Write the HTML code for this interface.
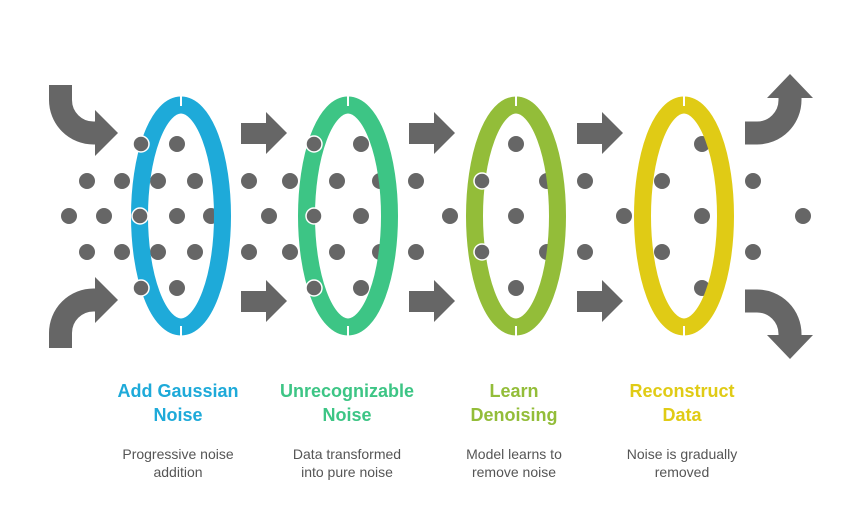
<!DOCTYPE html>
<html><head><meta charset="utf-8"><style>
body{margin:0;background:#fff;width:864px;height:517px;overflow:hidden;font-family:"Liberation Sans",sans-serif}
.t{position:absolute;width:170px;text-align:center;font-weight:bold;font-size:18px;line-height:24px}
.d{position:absolute;width:170px;text-align:center;font-size:14px;line-height:18px;color:#555}
</style></head><body>
<svg width="864" height="517" style="position:absolute;left:0;top:0">
<g fill="#666">
<circle cx="69" cy="216" r="8"/><circle cx="104" cy="216" r="8"/><circle cx="177" cy="216" r="8"/><circle cx="211" cy="216" r="8"/><circle cx="269" cy="216" r="8"/><circle cx="361" cy="216" r="8"/><circle cx="450" cy="216" r="8"/><circle cx="516" cy="216" r="8"/><circle cx="624" cy="216" r="8"/><circle cx="702" cy="216" r="8"/><circle cx="803" cy="216" r="8"/>
<g id="r"><circle cx="87" cy="181" r="8"/><circle cx="122" cy="181" r="8"/><circle cx="158" cy="181" r="8"/><circle cx="195" cy="181" r="8"/><circle cx="249" cy="181" r="8"/><circle cx="290" cy="181" r="8"/><circle cx="337" cy="181" r="8"/><circle cx="380" cy="181" r="8"/><circle cx="416" cy="181" r="8"/><circle cx="547" cy="181" r="8"/><circle cx="585" cy="181" r="8"/><circle cx="662" cy="181" r="8"/><circle cx="753" cy="181" r="8"/></g>
<use href="#r" y="71"/>
<circle cx="177" cy="144" r="8"/><circle cx="361" cy="144" r="8"/><circle cx="516" cy="144" r="8"/><circle cx="702" cy="144" r="8"/>
<circle cx="177" cy="288" r="8"/><circle cx="361" cy="288" r="8"/><circle cx="516" cy="288" r="8"/><circle cx="702" cy="288" r="8"/>
</g>
<g fill="none" stroke-width="17">
<ellipse cx="181" cy="216" rx="41.5" ry="111" stroke="#1EAAD9"/>
<ellipse cx="348" cy="216" rx="41.5" ry="111" stroke="#3DC585"/>
<ellipse cx="516" cy="216" rx="41.5" ry="111" stroke="#93BD39"/>
<ellipse cx="684" cy="216" rx="41.5" ry="111" stroke="#E0CB15"/>
</g>
<g stroke="#fff" stroke-width="2">
<line x1="181" y1="95" x2="181" y2="106"/><line x1="181" y1="326" x2="181" y2="337"/>
<line x1="348" y1="95" x2="348" y2="106"/><line x1="348" y1="326" x2="348" y2="337"/>
<line x1="516" y1="95" x2="516" y2="106"/><line x1="516" y1="326" x2="516" y2="337"/>
<line x1="684" y1="95" x2="684" y2="106"/><line x1="684" y1="326" x2="684" y2="337"/>
</g>
<g fill="#666" stroke="#fff" stroke-width="1.5">
<circle cx="141" cy="144" r="8"/><circle cx="140" cy="216" r="8"/><circle cx="141" cy="288" r="8"/>
<circle cx="314" cy="144" r="8"/><circle cx="314" cy="216" r="8"/><circle cx="314" cy="288" r="8"/>
<circle cx="482" cy="181" r="8"/><circle cx="482" cy="252" r="8"/>
</g>
<g fill="#666">
<g id="a"><rect x="241" y="123" width="26" height="21"/><polygon points="266,112 287,133 266,154"/></g>
<use href="#a" y="168"/><use href="#a" x="168"/><use href="#a" x="168" y="168"/><use href="#a" x="336"/><use href="#a" x="336" y="168"/>
<polygon points="95,110 118,133 95,156"/><polygon points="95,277 118,300 95,323"/>
<polygon points="767,98 790,74 813,98"/><polygon points="767,335 790,359 813,335"/>
</g>
<g fill="none" stroke="#666" stroke-width="23">
<path d="M60.5 85V100A33 33 0 0 0 93.5 133H97"/>
<path d="M60.5 348V333A33 33 0 0 1 93.5 300H97"/>
<path d="M745 133H757A33 33 0 0 0 790 100V97"/>
<path d="M745 301H757A33 33 0 0 1 790 334V337"/>
</g>
</svg>
<div class="t" style="left:93px;top:379px;color:#1EAAD9">Add Gaussian<br>Noise</div>
<div class="t" style="left:262px;top:379px;color:#3DC585">Unrecognizable<br>Noise</div>
<div class="t" style="left:429px;top:379px;color:#93BD39">Learn<br>Denoising</div>
<div class="t" style="left:597px;top:379px;color:#E0CB15">Reconstruct<br>Data</div>
<div class="d" style="left:93px;top:445px">Progressive noise<br>addition</div>
<div class="d" style="left:262px;top:445px">Data transformed<br>into pure noise</div>
<div class="d" style="left:429px;top:445px">Model learns to<br>remove noise</div>
<div class="d" style="left:597px;top:445px">Noise is gradually<br>removed</div>
</body></html>
